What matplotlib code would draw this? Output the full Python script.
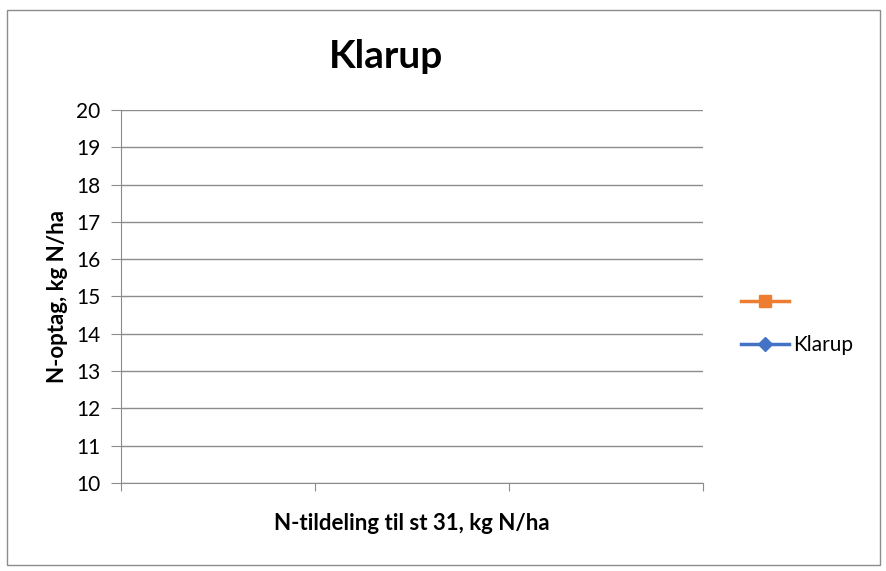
import matplotlib
matplotlib.use("Agg")
import matplotlib.pyplot as plt
from matplotlib.patches import Rectangle
import numpy as np

plt.rcParams['font.family'] = ['Lato', 'DejaVu Sans']

# chart is empty in the reference: three categories, no values
kategorier = ["", "", ""]
serie_tom = [np.nan, np.nan, np.nan]
klarup = [np.nan, np.nan, np.nan]
serie_navne = [" ", "Klarup"]

grid_col = "#8c8c8c"
orange = "#ED7D31"
blaa = "#4472C4"

fig = plt.figure(figsize=(8.86, 5.71), dpi=100)
ax = fig.add_axes([121/886, 1-483/571, (703-121)/886, (483-110)/571])

x = np.arange(len(kategorier))
l1, = ax.plot(x, serie_tom, color=orange, lw=2.5, marker="s", ms=8)
l2, = ax.plot(x, klarup, color=blaa, lw=2.5, marker="D", ms=7)

ax.set_ylim(10, 20)
ax.set_yticks(range(10, 21))
ax.set_xlim(-0.5, len(kategorier) - 0.5)
ax.set_xticks(np.arange(-0.5, len(kategorier), 1.0))
ax.set_xticklabels([])
ax.grid(axis="y", color=grid_col, lw=1)
ax.set_axisbelow(True)
for s in ["top", "right"]:
    ax.spines[s].set_visible(False)
for s in ["left", "bottom"]:
    ax.spines[s].set_color(grid_col)
ax.tick_params(axis="y", length=7, color=grid_col, labelsize=15, pad=8)
ax.tick_params(axis="x", length=6, color=grid_col)

ax.set_ylabel("N-optag, kg N/ha", fontsize=16, fontweight="bold", labelpad=6)
ax.set_xlabel("N-tildeling til st 31, kg N/ha", fontsize=16, fontweight="bold", labelpad=12)
fig.text(386/886, 1-57/571, "Klarup", fontsize=28, fontweight="bold", ha="center", va="center")

fig.legend(handles=[l1, l2], labels=serie_navne, loc="center left",
           bbox_to_anchor=(731/886, 1-324/571),
           frameon=False, fontsize=15, handlelength=2.3, labelspacing=1.1,
           handletextpad=0.2, borderpad=0)

fig.patches.append(Rectangle((7/886, 1-565/571), (880-7)/886, (565-10)/571,
                             transform=fig.transFigure, fill=False, ec=grid_col, lw=1))

fig.savefig("out.png", dpi=100)
